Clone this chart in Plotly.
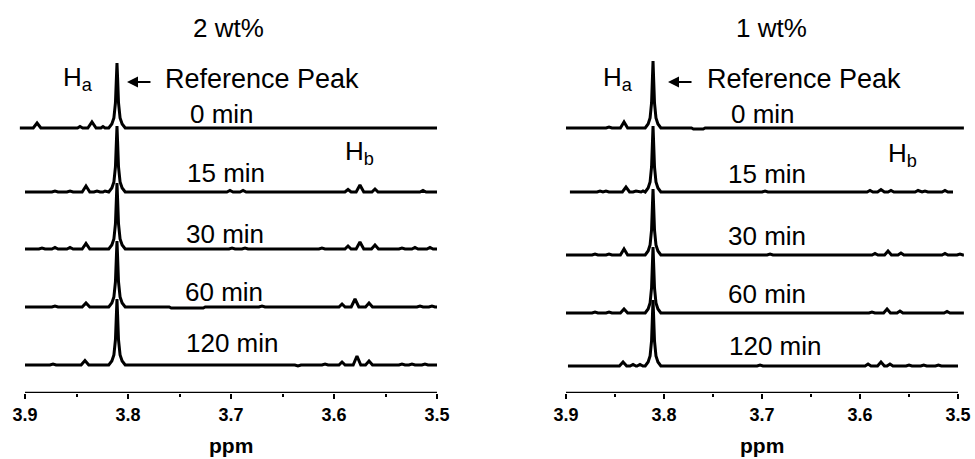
import plotly.graph_objects as go

# ---------------- data ----------------
tick_vals = [3.9, 3.8, 3.7, 3.6, 3.5]
tick_text = ["3.9", "3.8", "3.7", "3.6", "3.5"]
times = ["0 min", "15 min", "30 min", "60 min", "120 min"]
panels = ["2 wt%", "1 wt%"]

# stacking offsets of each spectrum (arbitrary intensity units)
left_offsets = [265, 201, 144, 86, 28]
right_offsets = [265, 201, 138, 80, 27]

# ---- 2 wt% spectra (ppm, intensity above own baseline) ----
L0_ppm = [3.905, 3.892, 3.8883, 3.8846, 3.849, 3.8466, 3.844, 3.839, 3.835, 3.831, 3.8263, 3.8243, 3.8223,
          3.8187, 3.8157, 3.8137, 3.8122, 3.8113, 3.8107, 3.8101, 3.8092, 3.8077, 3.8057, 3.8027, 3.5]
L0_int = [0, 0, 5, 0, 0, 1.5, 0, 0, 6, 0, 0, 1.5, 0,
          0, 4, 10, 25, 50, 65, 50, 25, 10, 4, 0, 0]

L15_ppm = [3.9, 3.8739, 3.8709, 3.8679, 3.8593, 3.8563, 3.8533, 3.8445, 3.8408, 3.8371, 3.8331, 3.8301, 3.8271,
           3.8243, 3.8223, 3.8203,
           3.8187, 3.8157, 3.8137, 3.8122, 3.8113, 3.8107, 3.8101, 3.8092, 3.8077, 3.8057, 3.8027,
           3.704, 3.701, 3.698, 3.6913, 3.6883, 3.6853, 3.5894, 3.5864, 3.5834, 3.5785, 3.5748, 3.5711,
           3.5632, 3.5602, 3.5572, 3.5166, 3.5136, 3.5106, 3.5]
L15_int = [0, 0, 1, 0, 0, 1, 0, 0, 6, 0, 0, 1, 0,
           0, 1, 0,
           0, 4, 10, 25, 50, 66, 50, 25, 10, 4, 0,
           0, 1.5, 0, 0, 1.5, 0, 0, 2.5, 0, 0, 7, 0,
           0, 3, 0, 0, 1.5, 0, 0]

L30_ppm = [3.9, 3.8865, 3.8835, 3.8805, 3.8739, 3.8709, 3.8679, 3.8593, 3.8563, 3.8533, 3.8445, 3.8408, 3.8371,
           3.8187, 3.8157, 3.8137, 3.8122, 3.8113, 3.8107, 3.8101, 3.8092, 3.8077, 3.8057, 3.8027,
           3.702, 3.699, 3.696, 3.6894, 3.6864, 3.6834, 3.6147, 3.6117, 3.6087, 3.5894, 3.5864, 3.5834,
           3.5785, 3.5748, 3.5711, 3.5636, 3.5602, 3.5568, 3.537, 3.534, 3.531, 3.5244, 3.5214, 3.5184,
           3.5098, 3.5068, 3.5038, 3.5]
L30_int = [0, 0, 1, 0, 0, 1.5, 0, 0, 1.5, 0, 0, 5.5, 0,
           0, 4, 10, 25, 50, 66, 50, 25, 10, 4, 0,
           0, 1, 0, 0, 1, 0, 0, 1, 0, 0, 3, 0,
           0, 7, 0, 0, 4, 0, 0, 1, 0, 0, 1.5, 0,
           0, 1.5, 0, 0]

L60_ppm = [3.9, 3.8739, 3.8709, 3.8679, 3.8445, 3.8408, 3.8371,
           3.8187, 3.8157, 3.8137, 3.8122, 3.8113, 3.8107, 3.8101, 3.8092, 3.8077, 3.8057, 3.8027,
           3.760, 3.758, 3.727, 3.725, 3.6729, 3.6699, 3.6669, 3.5952, 3.5922, 3.5892,
           3.5833, 3.5796, 3.5759, 3.5694, 3.566, 3.5626, 3.5195, 3.5165, 3.5135, 3.5079, 3.5049, 3.5019, 3.5]
L60_int = [0, 0, 1, 0, 0, 4, 0,
           0, 4, 10, 25, 50, 66, 50, 25, 10, 4, 0,
           0, -1, -1, 0, 0, 1, 0, 0, 3, 0,
           0, 8, 0, 0, 4, 0, 0, 1, 0, 0, 1, 0, 0]

L120_ppm = [3.9, 3.8758, 3.8728, 3.8698, 3.8455, 3.8418, 3.8381,
            3.8187, 3.8157, 3.8137, 3.8122, 3.8113, 3.8107, 3.8101, 3.8092, 3.8077, 3.8057, 3.8027,
            3.638, 3.635, 3.632, 3.6117, 3.6087, 3.6057, 3.5952, 3.5922, 3.5892, 3.5814, 3.5777, 3.574,
            3.5694, 3.566, 3.5626, 3.537, 3.534, 3.531, 3.5273, 3.5243, 3.5213, 3.5147, 3.5117, 3.5087, 3.5]
L120_int = [0, 0, 1, 0, 0, 4.5, 0,
            0, 4, 10, 25, 50, 66, 50, 25, 10, 4, 0,
            0, -1, 0, 0, 1, 0, 0, 3, 0, 0, 9, 0,
            0, 4, 0, 0, 1, 0, 0, 1, 0, 0, 1, 0, 0]

# ---- 1 wt% spectra ----
R0_ppm = [3.9, 3.8591, 3.8561, 3.8531, 3.8445, 3.8408, 3.8371,
          3.8192, 3.8162, 3.8142, 3.8127, 3.8118, 3.8112, 3.8106, 3.8097, 3.8082, 3.8062, 3.8032,
          3.772, 3.770, 3.760, 3.758, 3.494]
R0_int = [0, 0, 1, 0, 0, 6, 0,
          0, 4, 10, 25, 50, 67, 50, 25, 10, 4, 0,
          0, -1, -1, 0, 0]

R15_ppm = [3.896, 3.8683, 3.8653, 3.8623, 3.8592, 3.8562, 3.8425, 3.8388, 3.8351, 3.8316, 3.8286, 3.8256,
           3.8234, 3.8214, 3.8194,
           3.8192, 3.8162, 3.8142, 3.8127, 3.8118, 3.8112, 3.8106, 3.8097, 3.8082, 3.8062, 3.8032,
           3.6999, 3.6969, 3.6939, 3.5928, 3.5898, 3.5868, 3.5821, 3.5786, 3.5751, 3.5714, 3.5684, 3.5654,
           3.5438, 3.5408, 3.5378, 3.5367, 3.5337, 3.5307, 3.5163, 3.5133, 3.5103, 3.5051]
R15_int = [0, 0, 1, 0, 1, 0, 0, 5, 0, 0, 1, 0,
           0, 1, 0,
           0, 4, 10, 25, 50, 66, 50, 25, 10, 4, 0,
           0, 1, 0, 0, 1.5, 0, 0, 2.5, 0, 0, 1.5, 0,
           0, 1.5, 0, 0, 1, 0, 0, 1.5, 0, 0]

R30_ppm = [3.9, 3.8734, 3.8704, 3.8674, 3.8591, 3.8561, 3.8531, 3.8445, 3.8408, 3.8371,
           3.8192, 3.8162, 3.8142, 3.8127, 3.8118, 3.8112, 3.8106, 3.8097, 3.8082, 3.8062, 3.8032,
           3.6948, 3.6918, 3.6888, 3.5877, 3.5847, 3.5817, 3.5749, 3.5714, 3.5679, 3.5612, 3.5582, 3.5552,
           3.5163, 3.5133, 3.5103, 3.501, 3.498, 3.495, 3.494]
R30_int = [0, 0, 1, 0, 0, 1, 0, 0, 6, 0,
           0, 4, 10, 25, 50, 66, 50, 25, 10, 4, 0,
           0, 1, 0, 0, 1.5, 0, 0, 4, 0, 0, 2, 0,
           0, 1.5, 0, 0, 1, 0, 0]

R60_ppm = [3.9, 3.8734, 3.8704, 3.8674, 3.8591, 3.8561, 3.8531, 3.8445, 3.8408, 3.8371,
           3.8192, 3.8162, 3.8142, 3.8127, 3.8118, 3.8112, 3.8106, 3.8097, 3.8082, 3.8062, 3.8032,
           3.5908, 3.5878, 3.5848, 3.5759, 3.5724, 3.5689, 3.5622, 3.5592, 3.5562,
           3.5142, 3.5112, 3.5082, 3.494]
R60_int = [0, 0, 1, 0, 0, 1, 0, 0, 4, 0,
           0, 4, 10, 25, 50, 66, 50, 25, 10, 4, 0,
           0, 1, 0, 0, 4, 0, 0, 2, 0,
           0, 1.5, 0, 0]

R120_ppm = [3.898, 3.8455, 3.8418, 3.8381, 3.8346, 3.8316, 3.8286, 3.8275, 3.8245, 3.8215,
            3.8192, 3.8162, 3.8142, 3.8127, 3.8118, 3.8112, 3.8106, 3.8097, 3.8082, 3.8062, 3.8032,
            3.705, 3.702, 3.699, 3.5948, 3.5918, 3.5888, 3.5821, 3.5786, 3.5751, 3.5724, 3.5694, 3.5664,
            3.553, 3.550, 3.547, 3.538, 3.535, 3.532, 3.523, 3.520, 3.517, 3.5]
R120_int = [0, 0, 4, 0, 0, 1.5, 0, 0, 1.5, 0,
            0, 4, 10, 25, 50, 66, 50, 25, 10, 4, 0,
            0, 1, 0, 0, 2, 0, 0, 4, 0, 0, 2, 0,
            0, 1, 0, 0, 1, 0, 0, 1, 0, 0]

left_spectra = [(L0_ppm, L0_int), (L15_ppm, L15_int), (L30_ppm, L30_int), (L60_ppm, L60_int), (L120_ppm, L120_int)]
right_spectra = [(R0_ppm, R0_int), (R15_ppm, R15_int), (R30_ppm, R30_int), (R60_ppm, R60_int), (R120_ppm, R120_int)]

# label positions (ppm, height) for time labels
left_label_pos = [(3.7087, 279), (3.7049, 220), (3.7058, 159), (3.7068, 101), (3.699, 50.5)]
right_label_pos = [(3.699, 279), (3.6949, 219), (3.6949, 157), (3.6949, 99), (3.6867, 47)]

# ---------------- figure ----------------
fig = go.Figure()
FONT = "Liberation Sans, Arial, sans-serif"
LW = 3

for (xs, ys), off in zip(left_spectra, left_offsets):
    fig.add_trace(go.Scatter(x=xs, y=[v + off for v in ys], mode="lines",
                             line=dict(color="black", width=LW), xaxis="x", yaxis="y",
                             showlegend=False, hoverinfo="skip"))
for (xs, ys), off in zip(right_spectra, right_offsets):
    fig.add_trace(go.Scatter(x=xs, y=[v + off for v in ys], mode="lines",
                             line=dict(color="black", width=LW), xaxis="x2", yaxis="y2",
                             showlegend=False, hoverinfo="skip"))

ann = []
shapes = []
PLOT_H = 393.0


def txt(text, x, y, xr, yr, size=26, xanchor="center", bold=False):
    t = f"<b>{text}</b>" if bold else text
    ann.append(dict(text=t, x=x, y=y, xref=xr, yref=yr, showarrow=False,
                    xanchor=xanchor, yanchor="middle", font=dict(family=FONT, size=size, color="black")))


for xr, yr, title, tx, haX, refX, arrowX, hbX, hbY, labels in [
    ("x", "y", panels[0], 3.702, 3.849, 3.766, 3.801, 3.5752, 240.5, left_label_pos),
    ("x2", "y2", panels[1], 3.6908, 3.8474, 3.7582, 3.7959, 3.5566, 239, right_label_pos),
]:
    txt(title, tx, 365, xr, yr, size=26)
    txt("H<sub>a</sub>", haX, 315, xr, yr, size=26)
    txt("Reference Peak", refX, 314, xr, yr, size=27, xanchor="left")
    ann.append(dict(text="", x=arrowX, y=311, xref=xr, yref=yr, showarrow=True, ax=25, ay=0,
                    axref="pixel", ayref="pixel", arrowhead=2, arrowsize=1.1, arrowwidth=2, arrowcolor="black"))
    txt("H<sub>b</sub>", hbX, hbY, xr, yr, size=26)
    for t, (px, py) in zip(times, labels):
        txt(t, px, py, xr, yr, size=26)
    txt("ppm", 3.7, (PLOT_H - 445) / PLOT_H, xr, "paper", size=21, bold=True)
    shapes.append(dict(type="line", x0=3.9, x1=3.5, y0=0, y1=0, xref=xr, yref=yr,
                       line=dict(color="black", width=2.4)))

axis_common = dict(range=[3.91, 3.49], tickmode="array", tickvals=tick_vals, automargin=False,
                   ticktext=[f"<b>{t}</b>" for t in tick_text], ticks="outside", ticklen=5, tickwidth=2,
                   tickcolor="black", showline=False, showgrid=False, zeroline=False,
                   tickfont=dict(family=FONT, size=18, color="black"),
                   minor=dict(tickmode="array", tickvals=[3.85, 3.75, 3.65, 3.55], ticks="outside",
                              ticklen=3, tickwidth=2, tickcolor="black", showgrid=False))
yaxis_common = dict(range=[0, 393], visible=False, fixedrange=True, automargin=False)

fig.update_layout(
    width=975, height=459,
    margin=dict(l=0, r=0, t=0, b=66, autoexpand=False),
    paper_bgcolor="white", plot_bgcolor="white",
    xaxis=dict(domain=[0.01508, 0.45877], anchor="y", **axis_common),
    xaxis2=dict(domain=[0.57046, 0.99262], anchor="y2", **axis_common),
    yaxis=dict(domain=[0, 1], anchor="x", **yaxis_common),
    yaxis2=dict(domain=[0, 1], anchor="x2", **yaxis_common),
    annotations=ann, shapes=shapes,
)

fig.write_html("out.html", config={"displayModeBar": False},
               post_script="document.body.style.margin='0';document.body.style.overflow='hidden';")
